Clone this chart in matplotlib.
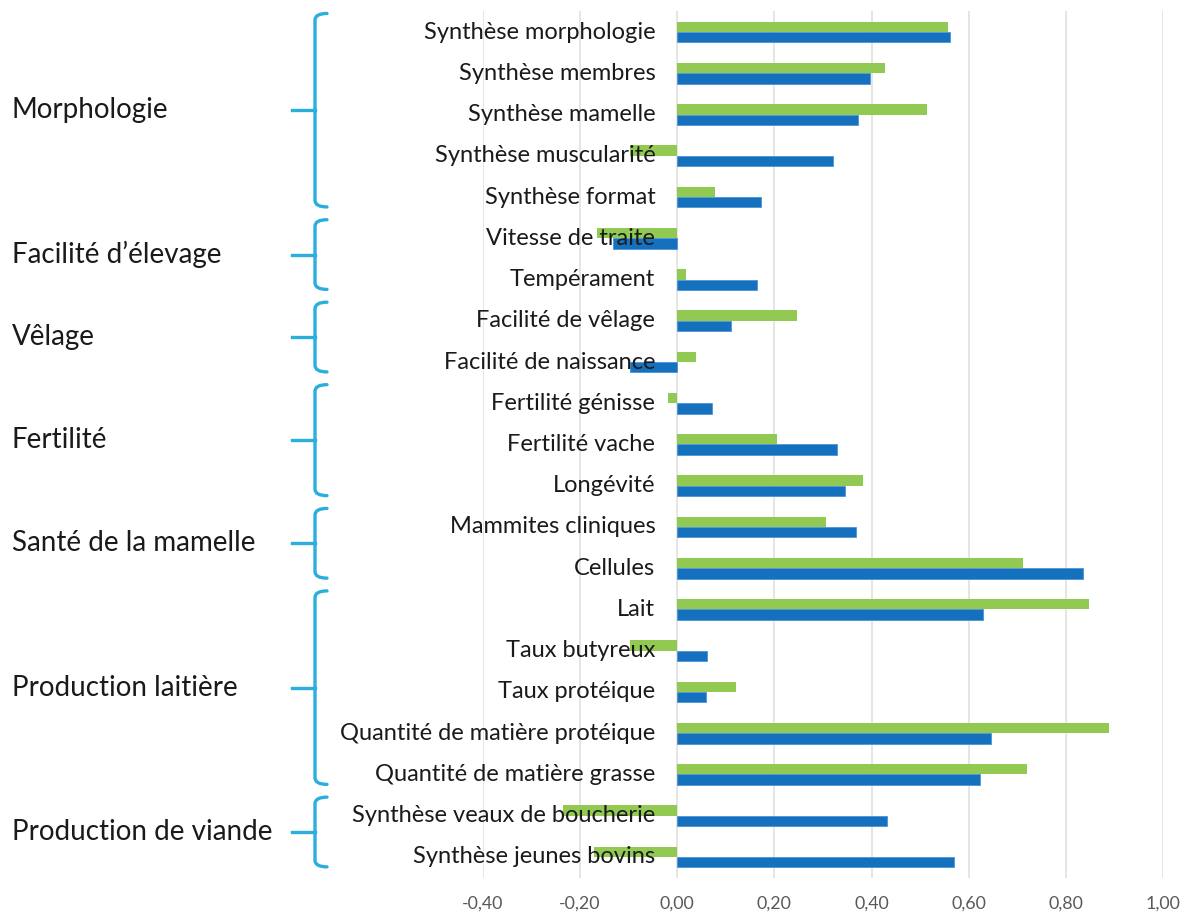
import matplotlib
matplotlib.use('Agg')
import matplotlib.pyplot as plt
import numpy as np
from matplotlib.path import Path
from matplotlib.patches import PathPatch
from matplotlib.transforms import blended_transform_factory
from matplotlib.ticker import FuncFormatter

plt.rcParams['font.family'] = ['Lato', 'DejaVu Sans']

categories = [
    'Synthèse morphologie', 'Synthèse membres', 'Synthèse mamelle',
    'Synthèse muscularité', 'Synthèse format', 'Vitesse de traite',
    'Tempérament', 'Facilité de vêlage', 'Facilité de naissance',
    'Fertilité génisse', 'Fertilité vache', 'Longévité',
    'Mammites cliniques', 'Cellules', 'Lait', 'Taux butyreux',
    'Taux protéique', 'Quantité de matière protéique',
    'Quantité de matière grasse', 'Synthèse veaux de boucherie',
    'Synthèse jeunes bovins',
]
green_vals = [0.558, 0.428, 0.515, -0.097, 0.077, -0.165, 0.019, 0.247,
              0.038, -0.019, 0.205, 0.382, 0.306, 0.712, 0.847, -0.098,
              0.120, 0.888, 0.720, -0.236, -0.172]
blue_vals = [0.562, 0.397, 0.372, 0.321, 0.173, -0.132, 0.165, 0.110,
             -0.098, 0.071, 0.329, 0.346, 0.367, 0.835, 0.630, 0.062,
             0.060, 0.646, 0.624, 0.432, 0.569]

groups = ['Morphologie', 'Facilité d\u2019élevage', 'Vêlage', 'Fertilité',
          'Santé de la mamelle', 'Production laitière', 'Production de viande']
group_first = [0, 5, 7, 9, 12, 14, 19]
group_last = [4, 6, 8, 11, 13, 18, 20]

x_ticks = [-0.4, -0.2, 0.0, 0.2, 0.4, 0.6, 0.8, 1.0]

GREEN = '#92C953'
BLUE = '#1570BE'
CYAN = '#2AAEDC'

fig = plt.figure(figsize=(11.89, 9.13), dpi=100)
ax = fig.add_axes([0.4062, 0.0388, 0.5719, 0.9487])

y = np.arange(len(categories))
h = 0.25
ax.barh(y - h / 2, green_vals, height=h, color=GREEN, zorder=2)
ax.barh(y + h / 2, blue_vals, height=h, color=BLUE, edgecolor='#4A95D6',
        linewidth=0.6, zorder=2)

ax.set_xlim(-0.4, 1.0)
ax.set_ylim(len(categories) - 0.5, -0.5)
ax.set_xticks(x_ticks)
ax.xaxis.set_major_formatter(FuncFormatter(lambda v, p: f'{v:.2f}'.replace('.', ',')))
ax.tick_params(axis='x', length=0, pad=13, labelsize=12.8, labelcolor='#595959')
ax.set_yticks([])
ax.grid(axis='x', color='#E3E3E3', linewidth=1.3, zorder=0)
ax.set_axisbelow(True)
for s in ax.spines.values():
    s.set_visible(False)

for i, lab in enumerate(categories):
    ax.annotate(lab, xy=(0, i), xytext=(-22, 0), textcoords='offset pixels',
                ha='right', va='center', fontsize=17, color='#1a1a1a',
                zorder=5, annotation_clip=False)

# group brackets on the left
tr = blended_transform_factory(fig.transFigure, ax.transData)
W = 1189.0
xv, xh, xc, xt = 315 / W, 327 / W, 318.5 / W, 292 / W
r = 0.16
for name, a, b in zip(groups, group_first, group_last):
    top = a - 0.45
    bot = b + 0.24
    mid = (top + bot) / 2
    verts = [(xh, top), (xv, top), (xv, top + r),
             (xv, bot - r), (xv, bot), (xh, bot)]
    codes = [Path.MOVETO, Path.CURVE3, Path.CURVE3,
             Path.LINETO, Path.CURVE3, Path.CURVE3]
    fig.add_artist(PathPatch(Path(verts, codes), transform=tr, fill=False,
                             edgecolor=CYAN, linewidth=2.4, capstyle='round'))
    fig.add_artist(plt.Line2D([xt, xv], [mid, mid], transform=tr,
                              color=CYAN, linewidth=2.4))
    fig.text(12 / W, mid, name, transform=tr, ha='left', va='center',
             fontsize=20, color='#1a1a1a')

fig.savefig('out.png', dpi=100)
